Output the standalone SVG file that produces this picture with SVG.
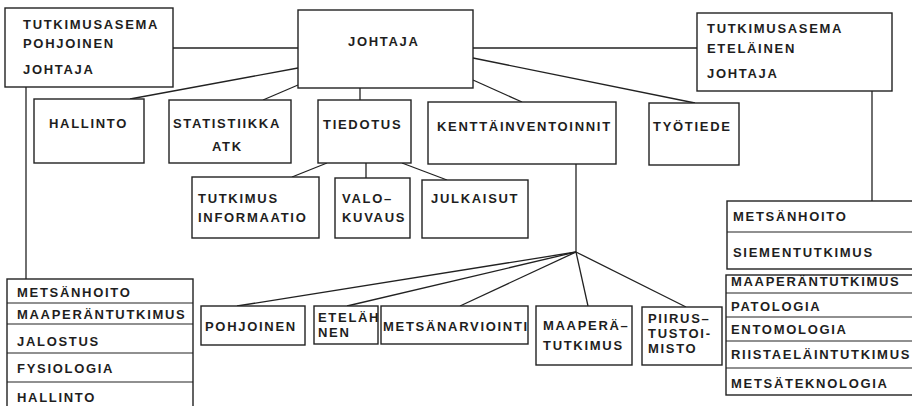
<svg xmlns="http://www.w3.org/2000/svg" width="912" height="406" viewBox="0 0 912 406">
<style>
rect{fill:#fff;stroke:#222;stroke-width:1.4}
.d{stroke:#222;stroke-width:1.2;fill:none}
#connectors line{stroke:#222;stroke-width:1.3}
text{font-family:"Liberation Sans",Arial,sans-serif;font-weight:bold;font-size:13px;letter-spacing:1.7px;fill:#1e1e1e}
</style>
<rect x="0" y="0" width="912" height="406" style="fill:#fff;stroke:none"/>
<g id="connectors">
<line x1="173" y1="48" x2="298" y2="48"/>
<line x1="473" y1="48" x2="697" y2="48"/>
<line x1="298" y1="68" x2="130" y2="99"/>
<line x1="298" y1="85" x2="263" y2="100"/>
<line x1="360" y1="88" x2="360" y2="100"/>
<line x1="473" y1="80" x2="522" y2="102"/>
<line x1="473" y1="58" x2="695" y2="103"/>
<line x1="26" y1="87" x2="26" y2="279"/>
<line x1="872" y1="91" x2="872" y2="201"/>
<line x1="327" y1="163" x2="292" y2="177"/>
<line x1="366" y1="163" x2="366" y2="178"/>
<line x1="402" y1="163" x2="447" y2="180"/>
<line x1="576" y1="164" x2="576" y2="252"/>
<line x1="576" y1="252" x2="237" y2="306"/>
<line x1="576" y1="252" x2="347" y2="306"/>
<line x1="576" y1="252" x2="460" y2="306"/>
<line x1="576" y1="252" x2="588" y2="306"/>
<line x1="576" y1="252" x2="686" y2="307"/>
</g>
<g id="station-pohjoinen">
<rect x="5" y="8" width="168" height="79"/>
<text x="23" y="29">TUTKIMUSASEMA</text>
<text x="23" y="48">POHJOINEN</text>
<text x="23" y="74">JOHTAJA</text>
</g>
<g id="johtaja">
<rect x="298" y="10" width="175" height="78"/>
<text x="348" y="46">JOHTAJA</text>
</g>
<g id="station-etelainen">
<rect x="697" y="13" width="195" height="78"/>
<text x="707" y="33">TUTKIMUSASEMA</text>
<text x="707" y="53">ETELÄINEN</text>
<text x="707" y="78">JOHTAJA</text>
</g>
<g id="hallinto">
<rect x="34" y="99" width="110" height="64"/>
<text x="49" y="128">HALLINTO</text>
</g>
<g id="statistiikka">
<rect x="169" y="100" width="122" height="63"/>
<text x="173" y="128">STATISTIIKKA</text>
<text x="212" y="151">ATK</text>
</g>
<g id="tiedotus">
<rect x="318" y="100" width="93" height="63"/>
<text x="323" y="129">TIEDOTUS</text>
</g>
<g id="kenttainventoinnit">
<rect x="428" y="102" width="188" height="62"/>
<text x="437" y="131">KENTTÄINVENTOINNIT</text>
</g>
<g id="tyotiede">
<rect x="649" y="103" width="90" height="62"/>
<text x="653" y="131">TYÖTIEDE</text>
</g>
<g id="tutkimusinformaatio">
<rect x="192" y="177" width="127" height="61"/>
<text x="198" y="203">TUTKIMUS</text>
<text x="198" y="222">INFORMAATIO</text>
</g>
<g id="valokuvaus">
<rect x="335" y="178" width="75" height="60"/>
<text x="342" y="203">VALO–</text>
<text x="342" y="222">KUVAUS</text>
</g>
<g id="julkaisut">
<rect x="422" y="180" width="106" height="58"/>
<text x="431" y="203">JULKAISUT</text>
</g>
<g id="pohjoinen">
<rect x="201" y="306" width="104" height="39"/>
<text x="205" y="331">POHJOINEN</text>
</g>
<g id="etelainen">
<rect x="314" y="306" width="64" height="38"/>
<text x="318" y="322">ETELÄH</text>
<text x="318" y="337">NEN</text>
</g>
<g id="metsanarviointi">
<rect x="381" y="306" width="147" height="38"/>
<text x="383" y="331">METSÄNARVIOINTI</text>
</g>
<g id="maaperatutkimus">
<rect x="536" y="306" width="96" height="59"/>
<text x="543" y="330">MAAPERÄ–</text>
<text x="543" y="350">TUTKIMUS</text>
</g>
<g id="piirustustoimisto">
<rect x="642" y="307" width="80" height="58"/>
<text x="648" y="323">PIIRUS–</text>
<text x="648" y="338">TUSTOI-</text>
<text x="648" y="353">MISTO</text>
</g>
<g id="pohjoinen-osastot">
<rect x="7" y="279" width="186" height="140"/>
<line class="d" x1="7" y1="303" x2="193" y2="303"/>
<line class="d" x1="7" y1="324" x2="193" y2="324"/>
<line class="d" x1="7" y1="353" x2="193" y2="353"/>
<line class="d" x1="7" y1="382" x2="193" y2="382"/>
<text x="17" y="297">METSÄNHOITO</text>
<text x="17" y="319">MAAPERÄNTUTKIMUS</text>
<text x="17" y="346">JALOSTUS</text>
<text x="17" y="373">FYSIOLOGIA</text>
<text x="17" y="402">HALLINTO</text>
</g>
<g id="etelainen-osastot">
<rect x="727" y="201" width="190" height="68"/>
<line class="d" x1="727" y1="232" x2="917" y2="232"/>
<text x="733" y="221">METSÄNHOITO</text>
<text x="733" y="257">SIEMENTUTKIMUS</text>
<rect x="726" y="275" width="191" height="120"/>
<line class="d" x1="726" y1="293" x2="917" y2="293"/>
<line class="d" x1="726" y1="317" x2="917" y2="317"/>
<line class="d" x1="726" y1="341" x2="917" y2="341"/>
<line class="d" x1="726" y1="368" x2="917" y2="368"/>
<text x="731" y="286">MAAPERÄNTUTKIMUS</text>
<text x="731" y="311">PATOLOGIA</text>
<text x="731" y="334">ENTOMOLOGIA</text>
<text x="731" y="359">RIISTAELÄINTUTKIMUS</text>
<text x="731" y="388">METSÄTEKNOLOGIA</text>
</g>
</svg>
